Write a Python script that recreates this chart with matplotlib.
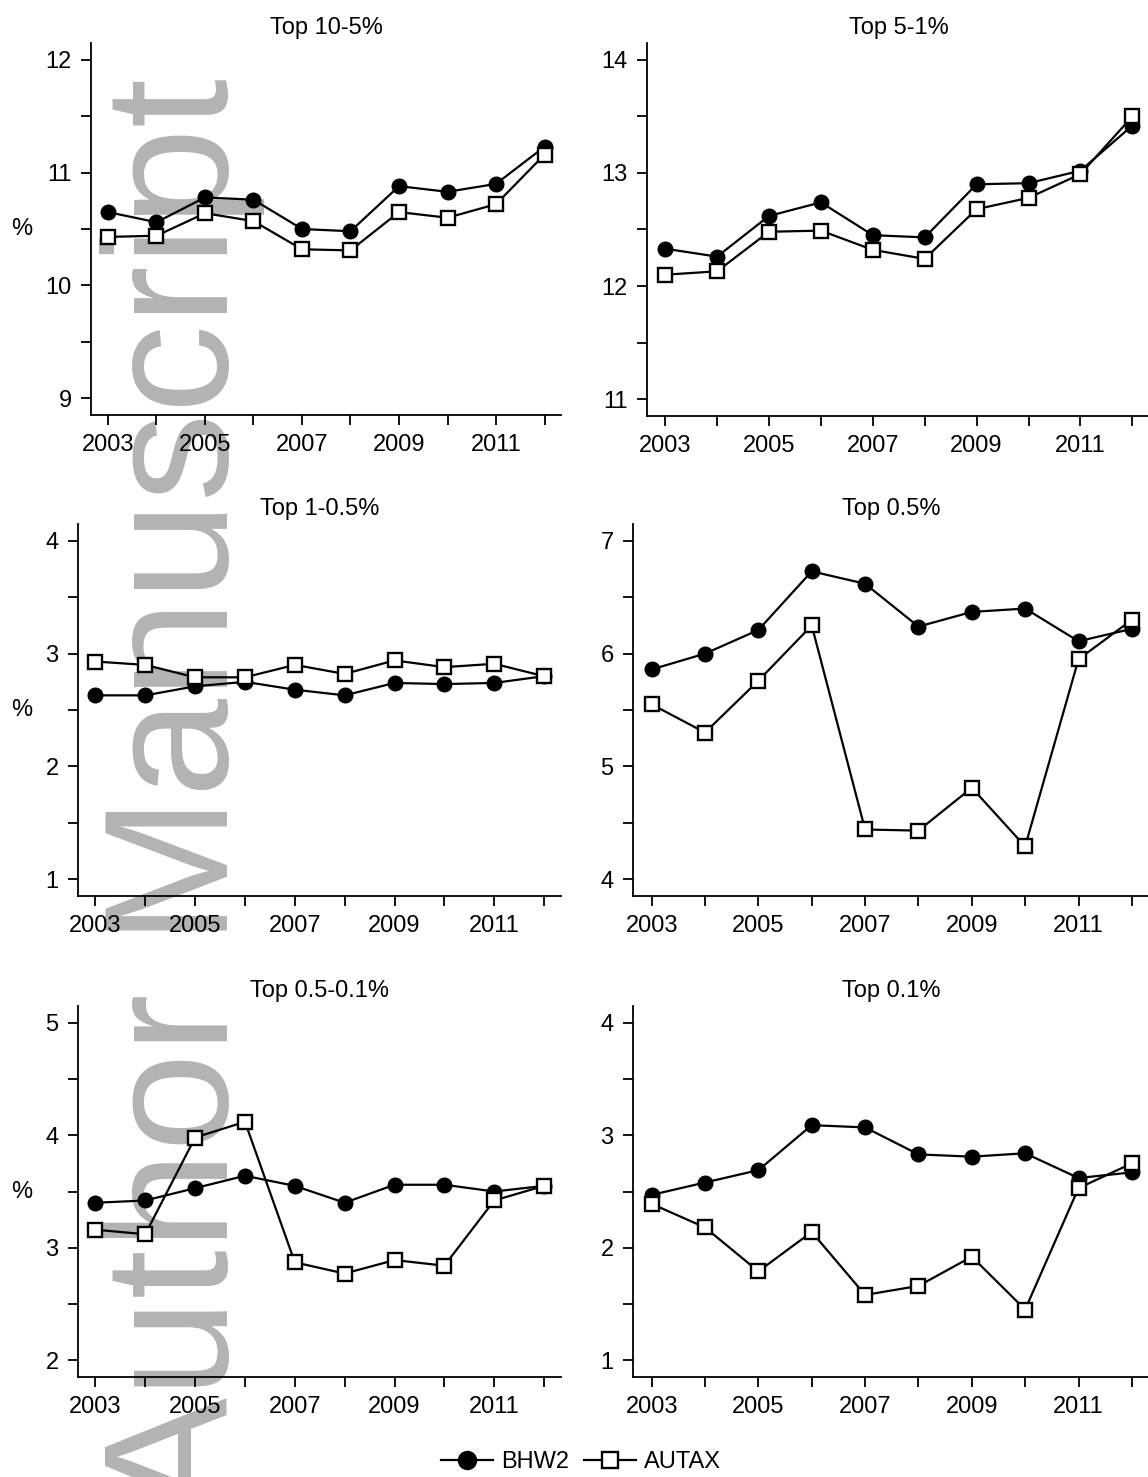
import matplotlib
matplotlib.use("Agg")
import matplotlib.pyplot as plt
from matplotlib.lines import Line2D

plt.rcParams['font.family'] = ['Liberation Sans', 'DejaVu Sans']

years = [2003, 2004, 2005, 2006, 2007, 2008, 2009, 2010, 2011, 2012]
xtick_labels = ["2003", "", "2005", "", "2007", "", "2009", "", "2011", ""]

titles = ["Top 10-5%", "Top 5-1%", "Top 1-0.5%", "Top 0.5%", "Top 0.5-0.1%", "Top 0.1%"]

bhw2_top10_5 = [10.65, 10.56, 10.78, 10.76, 10.50, 10.48, 10.88, 10.83, 10.90, 11.23]
autax_top10_5 = [10.43, 10.44, 10.64, 10.57, 10.32, 10.31, 10.65, 10.60, 10.72, 11.16]
bhw2_top5_1 = [12.33, 12.26, 12.62, 12.74, 12.45, 12.43, 12.90, 12.91, 13.02, 13.42]
autax_top5_1 = [12.10, 12.13, 12.48, 12.49, 12.32, 12.24, 12.68, 12.78, 12.99, 13.50]
bhw2_top1_05 = [2.63, 2.63, 2.71, 2.75, 2.68, 2.63, 2.74, 2.73, 2.74, 2.80]
autax_top1_05 = [2.93, 2.90, 2.79, 2.79, 2.90, 2.82, 2.94, 2.88, 2.91, 2.80]
bhw2_top05 = [5.86, 6.00, 6.21, 6.73, 6.62, 6.24, 6.37, 6.40, 6.11, 6.22]
autax_top05 = [5.55, 5.30, 5.76, 6.25, 4.44, 4.43, 4.81, 4.29, 5.95, 6.30]
bhw2_top05_01 = [3.40, 3.42, 3.53, 3.64, 3.55, 3.40, 3.56, 3.56, 3.50, 3.55]
autax_top05_01 = [3.16, 3.12, 3.98, 4.12, 2.87, 2.77, 2.89, 2.84, 3.42, 3.55]
bhw2_top01 = [2.47, 2.58, 2.69, 3.09, 3.07, 2.83, 2.81, 2.84, 2.62, 2.67]
autax_top01 = [2.39, 2.18, 1.79, 2.14, 1.58, 1.66, 1.92, 1.45, 2.53, 2.75]

bhw2_series = [bhw2_top10_5, bhw2_top5_1, bhw2_top1_05, bhw2_top05, bhw2_top05_01, bhw2_top01]
autax_series = [autax_top10_5, autax_top5_1, autax_top1_05, autax_top05, autax_top05_01, autax_top01]

ytick_sets = [[9, 10, 11, 12], [11, 12, 13, 14], [1, 2, 3, 4], [4, 5, 6, 7], [2, 3, 4, 5], [1, 2, 3, 4]]
series_labels = ["BHW2", "AUTAX"]

W, H = 1148, 1477
fig = plt.figure(figsize=(W / 100, H / 100), dpi=100)
fig.patch.set_facecolor('white')

# watermark
fig.text(228 / W, 1 - 78 / H, "Author Manuscript", rotation=90, rotation_mode='anchor',
         ha='right', va='baseline', fontsize=127.5, color='#b3b3b3',
         family='Liberation Sans', zorder=-1)

# panel rectangles in pixels: left, right, top, bottom
rects = [(91, 561, 43, 415), (647, 1150, 43, 416),
         (78, 561, 524, 896), (633, 1150, 524, 896),
         (78, 561, 1006, 1377), (633, 1150, 1006, 1377)]

FS = 17
for i, (l, r, t, b) in enumerate(rects):
    ax = fig.add_axes([l / W, 1 - b / H, (r - l) / W, (b - t) / H])
    ax.set_facecolor('none')
    ax.plot(years, bhw2_series[i], color='black', lw=1.6, marker='o', ms=10.5,
            mfc='black', mec='black', zorder=3, clip_on=False)
    ax.plot(years, autax_series[i], color='black', lw=1.6, marker='s', ms=10,
            mfc='white', mec='black', mew=1.7, zorder=4, clip_on=False)
    yt = ytick_sets[i]
    ax.set_xlim(2002.65, 2012.34)
    ax.set_ylim(yt[0] - 0.15, yt[-1] + 0.15)
    ticks = []
    labels = []
    for k, v in enumerate(yt):
        ticks.append(v)
        labels.append(str(v))
        if k < len(yt) - 1:
            ticks.append(v + 0.5)
            labels.append("")
    ax.set_yticks(ticks)
    ax.set_yticklabels(labels)
    ax.set_xticks(years)
    ax.set_xticklabels(xtick_labels)
    for s in ['top', 'right']:
        ax.spines[s].set_visible(False)
    for s in ['left', 'bottom']:
        ax.spines[s].set_linewidth(1.3)
    ax.tick_params(axis='both', direction='out', length=7.5, width=1.3, labelsize=FS)
    ax.tick_params(axis='y', pad=6.5)
    ax.tick_params(axis='x', pad=6.5)
    fig.text((l + r) / 2 / W, 1 - (t - 15) / H, titles[i], ha='center', va='center', fontsize=FS)
    if i % 2 == 0:
        fig.text(22 / W, 1 - (t + b) / 2 / H, "%", ha='center', va='center', fontsize=FS)

handles = [Line2D([], [], color='black', lw=1.6, marker='o', ms=13, mfc='black', mec='black'),
           Line2D([], [], color='black', lw=1.6, marker='s', ms=12, mfc='white', mec='black', mew=1.7)]
fig.legend(handles, series_labels, loc='center', bbox_to_anchor=(581 / W, 1 - 1462 / H),
           ncol=2, frameon=False, fontsize=FS, handlelength=2.2, handletextpad=0.35,
           columnspacing=0.6)

fig.savefig("out.png", dpi=100)
